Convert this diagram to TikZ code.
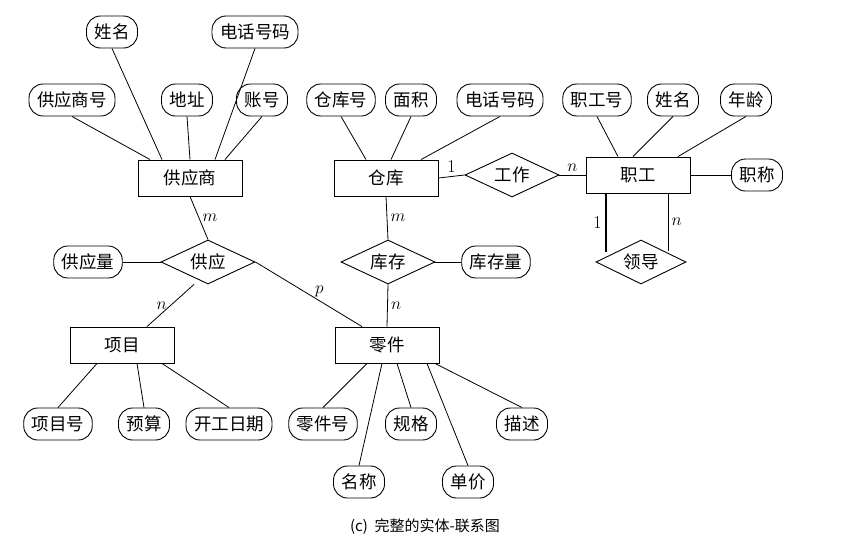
\documentclass[tikz,border=0pt]{standalone}
\usepackage{fontspec}
\newfontfamily\cjk{Noto Sans CJK SC}
\usetikzlibrary{shapes.geometric}
\begin{document}
\begin{tikzpicture}[x=1pt,y=-1pt,font=\cjk\fontsize{17.5}{20}\selectfont,
 ent/.style={draw,line width=0.9pt,minimum width=104pt,minimum height=36pt,inner sep=0pt},
 rel/.style={draw,line width=0.9pt,diamond,aspect=2.1,minimum width=94pt,minimum height=44pt,inner sep=0pt},
 att/.style={draw,line width=0.9pt,rounded corners=14pt,minimum height=32pt,inner xsep=8pt},
 lab/.style={font=\fontsize{18}{20}\selectfont},
 every path/.style={line width=0.8pt}]
\useasboundingbox (0,0) rectangle (855,544);
\node[ent] (gys) at (190,178) {供应商};
\node[ent] (ck) at (386,178) {仓库};
\node[ent] (zg) at (638,175) {职工};
\node[ent] (xm) at (122,345) {项目};
\node[ent] (lj) at (387,345) {零件};
\node[rel] (gz) at (512,175) {工作};
\node[rel] (gy) at (208,262) {供应};
\node[rel] (kc) at (388,262) {库存};
\node[rel,minimum width=90pt] (ld) at (641,262) {领导};
\node[att] (a1) at (112,32) {姓名};
\node[att] (a2) at (255,32) {电话号码};
\node[att] (a3) at (72,100) {供应商号};
\node[att] (a4) at (187,100) {地址};
\node[att] (a5) at (262,100) {账号};
\node[att] (b1) at (341,100) {仓库号};
\node[att] (b2) at (411,100) {面积};
\node[att] (b3) at (500,100) {电话号码};
\node[att] (c1) at (597,100) {职工号};
\node[att] (c2) at (673,100) {姓名};
\node[att] (c3) at (746,100) {年龄};
\node[att] (c4) at (757,175) {职称};
\node[att] (d1) at (88,262) {供应量};
\node[att] (d2) at (496,262) {库存量};
\node[att] (e1) at (58,424) {项目号};
\node[att] (e2) at (144,424) {预算};
\node[att] (e3) at (229,424) {开工日期};
\node[att] (f1) at (323,424) {零件号};
\node[att] (f2) at (411,424) {规格};
\node[att] (f3) at (522,424) {描述};
\node[att] (f4) at (359,482) {名称};
\node[att] (f5) at (468,482) {单价};
\node (cap) at (425,527) {\fontsize{15}{17}\selectfont (c)\ \ 完整的实体-联系图};
% attribute lines
\draw (a1.south) -- ([xshift=-28pt]gys.north);
\draw (a2.south) -- ([xshift=25pt]gys.north);
\draw (a3.south) -- ([xshift=-40pt]gys.north);
\draw (a4.south) -- (gys.north);
\draw (a5.south) -- ([xshift=35pt]gys.north);
\draw (b1.south) -- ([xshift=-20pt]ck.north);
\draw (b2.south) -- ([xshift=5pt]ck.north);
\draw (b3.south) -- ([xshift=35pt]ck.north);
\draw (c1.south) -- ([xshift=-20pt]zg.north);
\draw (c2.south) -- ([xshift=-5pt]zg.north);
\draw (c3.south) -- ([xshift=40pt]zg.north);
\draw (zg.east) -- (c4.west);
\draw (d1.east) -- (gy.west);
\draw (kc.east) -- (d2.west);
\draw (e1.north) -- ([xshift=-25pt]xm.south);
\draw (e2.north) -- ([xshift=15pt]xm.south);
\draw (e3.north) -- ([xshift=40pt]xm.south);
\draw (f1.north) -- ([xshift=-20pt]lj.south);
\draw (f2.north) -- ([xshift=10pt]lj.south);
\draw (f3.north) -- ([xshift=48pt]lj.south);
\draw (f4.north) -- ([xshift=-5pt]lj.south);
\draw (f5.north) -- ([xshift=40pt]lj.south);
% relationships
\draw (ck.east) -- node[pos=0.5,above,lab]{1} (gz.west);
\draw (gz.east) -- node[pos=0.5,above,lab]{$n$} (zg.west);
\draw (gys.south) -- node[right,lab]{$m$} (gy.north);
\draw ([xshift=-14pt]gy.south) -- node[left,lab]{$n$} ([xshift=25pt]xm.north);
\draw (gy.east) -- node[pos=0.6,above,lab]{$p$} ([xshift=-25pt]lj.north);
\draw (ck.south) -- node[right,lab]{$m$} (kc.north);
\draw (kc.south) -- node[right,lab]{$n$} (lj.north);
\coordinate (l1) at (606,252);
\coordinate (l2) at (668,251);
\draw[line width=2pt] (zg.south -| l1) -- node[left,lab]{1} (l1);
\draw (zg.south -| l2) -- node[right,lab]{$n$} (l2);
\end{tikzpicture}
\end{document}
